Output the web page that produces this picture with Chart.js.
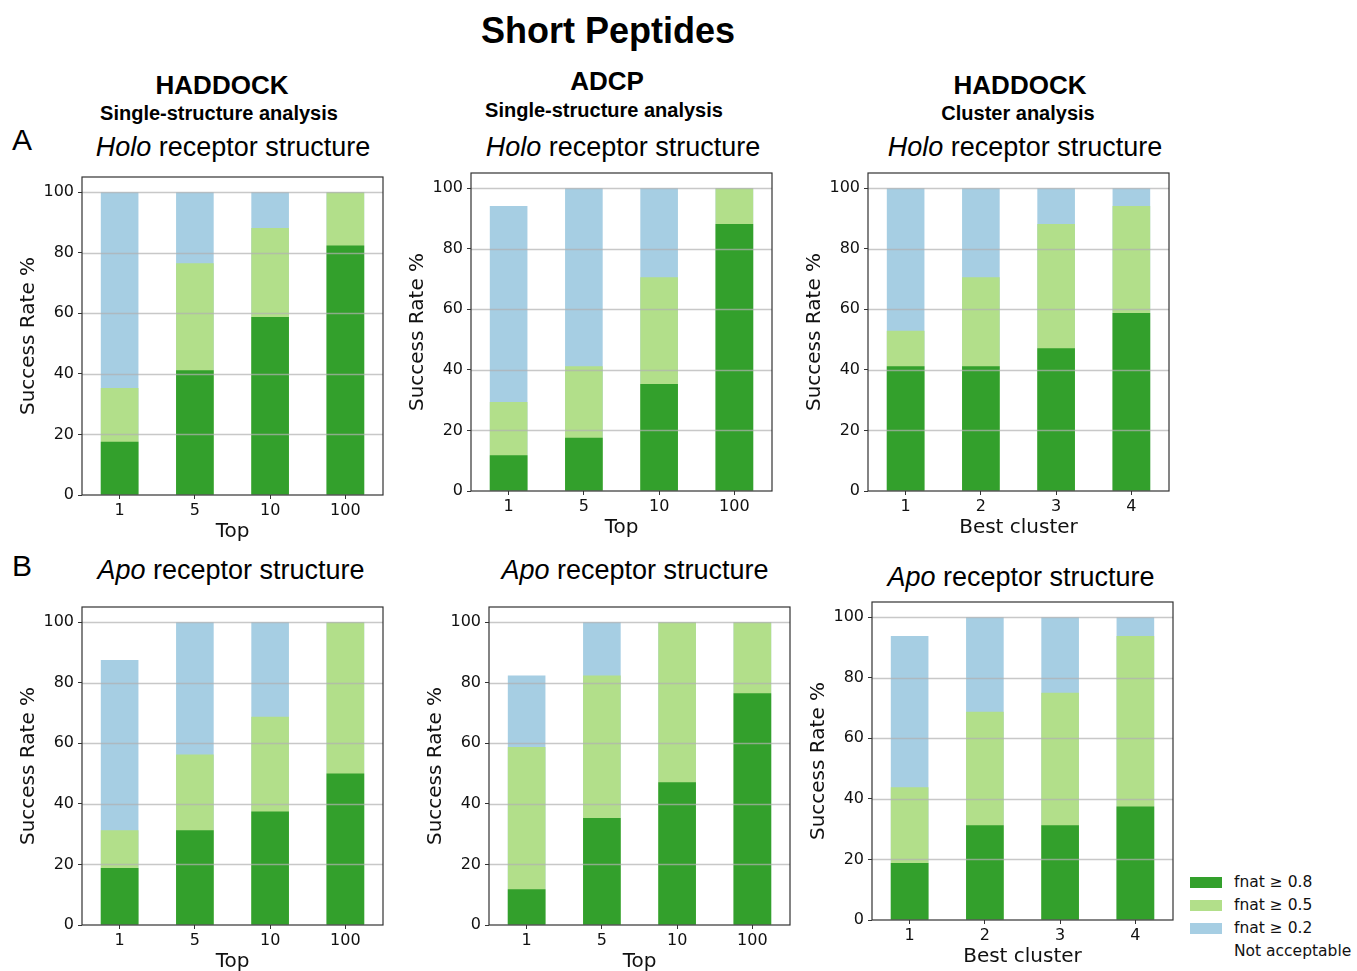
<!DOCTYPE html>
<html>
<head>
<meta charset="utf-8">
<script src="https://cdn.jsdelivr.net/npm/chart.js@4"></script>
<style>
  body { margin: 0; background: #fff; width: 1357px; height: 971px; overflow: hidden; position: relative; }
  canvas { position: absolute; }
  .t { position: absolute; font-family: "Liberation Sans", Arial, sans-serif; color: #000; white-space: nowrap; transform: translate(-50%, -50%); line-height: 1; }
  .b { font-weight: bold; }
  .leg { position: absolute; font-family: "DejaVu Sans", sans-serif; font-size: 15.5px; color: #111; white-space: nowrap; }
  .sw { position: absolute; width: 32px; height: 11px; }
</style>
</head>
<body>

<div class="t b" style="left:608px;top:31px;font-size:36px">Short Peptides</div>

<div class="t b" style="left:222px;top:85px;font-size:26px">HADDOCK</div>
<div class="t b" style="left:219px;top:113px;font-size:20px">Single-structure analysis</div>
<div class="t b" style="left:607px;top:81px;font-size:26px">ADCP</div>
<div class="t b" style="left:604px;top:110px;font-size:20px">Single-structure analysis</div>
<div class="t b" style="left:1020px;top:85px;font-size:26px">HADDOCK</div>
<div class="t b" style="left:1018px;top:113px;font-size:20px">Cluster analysis</div>

<div class="t" style="left:22px;top:140px;font-size:30px">A</div>
<div class="t" style="left:233px;top:147px;font-size:27px"><i>Holo</i> receptor structure</div>
<div class="t" style="left:623px;top:147px;font-size:27px"><i>Holo</i> receptor structure</div>
<div class="t" style="left:1025px;top:147px;font-size:27px"><i>Holo</i> receptor structure</div>

<div class="t" style="left:22px;top:566px;font-size:30px">B</div>
<div class="t" style="left:231px;top:570px;font-size:27px"><i>Apo</i> receptor structure</div>
<div class="t" style="left:635px;top:570px;font-size:27px"><i>Apo</i> receptor structure</div>
<div class="t" style="left:1021px;top:577px;font-size:27px"><i>Apo</i> receptor structure</div>

<canvas id="c1" width="391" height="393" style="left:2px;top:157px"></canvas>
<canvas id="c2" width="391" height="393" style="left:391px;top:153px"></canvas>
<canvas id="c3" width="391" height="393" style="left:788px;top:153px"></canvas>
<canvas id="c4" width="391" height="393" style="left:2px;top:587px"></canvas>
<canvas id="c5" width="391" height="393" style="left:409px;top:587px"></canvas>
<canvas id="c6" width="391" height="393" style="left:792px;top:582px"></canvas>

<div class="sw" style="left:1190px;top:877px;background:#33a02c"></div>
<div class="sw" style="left:1190px;top:900px;background:#b2df8a"></div>
<div class="sw" style="left:1190px;top:923px;background:#a6cee3"></div>
<div class="leg" style="left:1234px;top:873px">fnat ≥ 0.8</div>
<div class="leg" style="left:1234px;top:896px">fnat ≥ 0.5</div>
<div class="leg" style="left:1234px;top:919px">fnat ≥ 0.2</div>
<div class="leg" style="left:1234px;top:942px">Not acceptable</div>

<script>
// categories
const topLabels = ["1", "5", "10", "100"];
const clusterLabels = ["1", "2", "3", "4"];
const yTicks = [0, 20, 40, 60, 80, 100];

// A - holo, HADDOCK single-structure (cumulative success rates)
const holoHaddockF08 = [17.6, 41.2, 58.8, 82.4];
const holoHaddockF05 = [35.3, 76.5, 88.2, 100];
const holoHaddockF02 = [100, 100, 100, 100];

// A - holo, ADCP
const holoAdcpF08 = [11.8, 17.6, 35.3, 88.2];
const holoAdcpF05 = [29.4, 41.2, 70.6, 100];
const holoAdcpF02 = [94.1, 100, 100, 100];

// A - holo, HADDOCK cluster
const holoClusterF08 = [41.2, 41.2, 47.1, 58.8];
const holoClusterF05 = [52.9, 70.6, 88.2, 94.1];
const holoClusterF02 = [100, 100, 100, 100];

// B - apo, HADDOCK single-structure
const apoHaddockF08 = [18.8, 31.3, 37.5, 50];
const apoHaddockF05 = [31.3, 56.3, 68.8, 100];
const apoHaddockF02 = [87.5, 100, 100, 100];

// B - apo, ADCP
const apoAdcpF08 = [11.8, 35.3, 47.1, 76.5];
const apoAdcpF05 = [58.8, 82.4, 100, 100];
const apoAdcpF02 = [82.4, 100, 100, 100];

// B - apo, HADDOCK cluster
const apoClusterF08 = [18.8, 31.3, 31.3, 37.5];
const apoClusterF05 = [43.8, 68.8, 75, 93.8];
const apoClusterF02 = [93.8, 100, 100, 100];

const seriesNames = ["fnat \u2265 0.8", "fnat \u2265 0.5", "fnat \u2265 0.2"];
const colors = ["#33a02c", "#b2df8a", "#a6cee3"];

// grid on top of the bars + full frame, like matplotlib
const framePlugin = {
  id: "frame",
  afterDatasetsDraw(chart) {
    const { ctx, chartArea: a, scales } = chart;
    ctx.save();
    ctx.strokeStyle = "rgba(176,176,176,0.7)";
    ctx.lineWidth = 1.4;
    yTicks.slice(1).forEach((v) => {
      const py = Math.round(scales.y.getPixelForValue(v)) + 0.5;
      ctx.beginPath();
      ctx.moveTo(a.left, py);
      ctx.lineTo(a.right, py);
      ctx.stroke();
    });
    ctx.strokeStyle = "#333";
    ctx.lineWidth = 1.2;
    ctx.strokeRect(a.left, a.top, a.right - a.left, a.bottom - a.top);
    ctx.restore();
  },
};

function makeChart(id, labels, f08, f05, f02, xTitle) {
  const data = [f08, f05, f02];
  new Chart(document.getElementById(id), {
    type: "bar",
    data: {
      labels: labels,
      datasets: data.map((d, i) => ({
        label: seriesNames[i],
        data: d,
        backgroundColor: colors[i],
        borderWidth: 0,
        barPercentage: 0.5,
        categoryPercentage: 1.0,
      })),
    },
    options: {
      responsive: false,
      animation: false,
      layout: { padding: { top: 20, right: 10, left: 0, bottom: 0 } },
      plugins: { legend: { display: false }, tooltip: { enabled: false } },
      scales: {
        x: {
          stacked: true,
          offset: true,
          border: { display: false },
          grid: { offset: false, drawOnChartArea: false, tickLength: 4, tickColor: "#333", tickWidth: 1 },
          ticks: { color: "#111", padding: 2, font: { family: "DejaVu Sans", size: 16 } },
          title: {
            display: true,
            text: xTitle,
            color: "#111",
            padding: { top: 0, bottom: 6 },
            font: { family: "DejaVu Sans", size: 20 },
          },
          afterFit(s) { s.height = 55; },
        },
        y: {
          stacked: false,
          min: 0,
          max: 105,
          border: { display: false },
          grid: { drawOnChartArea: false, tickLength: 4, tickColor: "#333", tickWidth: 1 },
          ticks: { stepSize: 20, includeBounds: false, color: "#111", padding: 4, font: { family: "DejaVu Sans", size: 16 } },
          title: {
            display: true,
            text: "Success Rate %",
            color: "#111",
            padding: { top: 15, bottom: 0 },
            font: { family: "DejaVu Sans", size: 20 },
          },
          afterFit(s) { s.width = 80; },
        },
      },
    },
    plugins: [framePlugin],
  });
}

makeChart("c1", topLabels, holoHaddockF08, holoHaddockF05, holoHaddockF02, "Top");
makeChart("c2", topLabels, holoAdcpF08, holoAdcpF05, holoAdcpF02, "Top");
makeChart("c3", clusterLabels, holoClusterF08, holoClusterF05, holoClusterF02, "Best cluster");
makeChart("c4", topLabels, apoHaddockF08, apoHaddockF05, apoHaddockF02, "Top");
makeChart("c5", topLabels, apoAdcpF08, apoAdcpF05, apoAdcpF02, "Top");
makeChart("c6", clusterLabels, apoClusterF08, apoClusterF05, apoClusterF02, "Best cluster");
</script>
</body>
</html>
